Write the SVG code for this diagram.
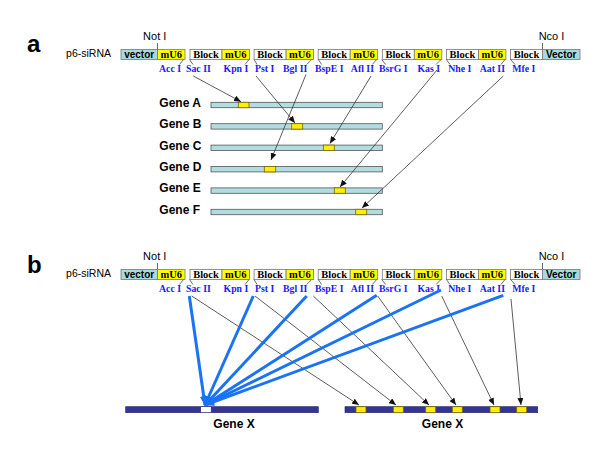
<svg xmlns="http://www.w3.org/2000/svg" width="600" height="454" viewBox="0 0 600 454">
<style>
.bg{fill:#fff}
.vec{fill:#a9d9dd;stroke:#777;stroke-width:0.8}
.mu{fill:#ffff00;stroke:#777;stroke-width:0.8}
.blk{fill:#fff;stroke:#777;stroke-width:0.8}
.tv{font-family:"Liberation Sans",Arial,sans-serif;font-weight:bold;font-size:10px;text-anchor:middle;fill:#000}
.tb{font-family:"Liberation Serif","Times New Roman",serif;font-weight:bold;font-size:10.5px;text-anchor:middle;fill:#000}
.lab{font-family:"Liberation Serif","Times New Roman",serif;font-weight:bold;font-size:9.8px;fill:#1a1aff}
.e{text-anchor:end}
.site{font-family:"Liberation Sans",Arial,sans-serif;font-size:11px;text-anchor:middle;fill:#000}
.p6{font-family:"Liberation Sans",Arial,sans-serif;font-size:10.5px;text-anchor:end;fill:#000}
.big{font-family:"Liberation Sans",Arial,sans-serif;font-weight:bold;font-size:24px;fill:#000}
.gl{font-family:"Liberation Sans",Arial,sans-serif;font-weight:bold;font-size:12px;fill:#000}
.gbar{fill:#b2dde0;stroke:#555;stroke-width:0.8}
.gy{fill:#ffee00;stroke:#776600;stroke-width:0.8}
.xbar{fill:#333399;stroke:#222266;stroke-width:0.6}
.xw{fill:#fff;stroke:#222266;stroke-width:0.6}
.tick{stroke:#444;stroke-width:0.8;fill:none}
.ln{stroke:#333;stroke-width:0.8;fill:none;marker-end:url(#ah)}
.bl{stroke:#1a73f5;stroke-width:3;fill:none;marker-end:url(#bh)}
</style>
<defs>
<marker id="ah" markerUnits="userSpaceOnUse" markerWidth="7" markerHeight="6" refX="7" refY="3" orient="auto"><path d="M0,0 L7,3 L0,6 z" fill="#111"/></marker>
<marker id="bh" markerUnits="userSpaceOnUse" markerWidth="10" markerHeight="8" refX="9" refY="4" orient="auto"><path d="M0,0 L10,4 L0,8 z" fill="#1a73f5"/></marker>
</defs>
<rect class="bg" x="0" y="0" width="600" height="454"/>

<text class="big" x="27" y="52">a</text>
<text class="big" x="27" y="273">b</text>

<g id="constructA">
<text class="p6" x="111" y="57">p6-siRNA</text>
<text class="site" x="154.7" y="40">Not I</text>
<text class="site" x="551.5" y="40">Nco I</text>
<line class="tick" x1="157.5" y1="43" x2="157.5" y2="49.5"/>
<line class="tick" x1="542.5" y1="43" x2="542.5" y2="49.5"/>
<rect class="vec" x="121" y="49.5" width="36.5" height="10"/>
<rect class="mu" x="157.5" y="49.5" width="27.5" height="10"/>
<rect class="blk" x="190" y="49.5" width="32" height="10"/>
<rect class="mu" x="222" y="49.5" width="27.5" height="10"/>
<rect class="blk" x="254.1" y="49.5" width="32" height="10"/>
<rect class="mu" x="286.1" y="49.5" width="27.5" height="10"/>
<rect class="blk" x="318.2" y="49.5" width="32" height="10"/>
<rect class="mu" x="350.2" y="49.5" width="27.5" height="10"/>
<rect class="blk" x="382.3" y="49.5" width="32" height="10"/>
<rect class="mu" x="414.3" y="49.5" width="27.5" height="10"/>
<rect class="blk" x="446.4" y="49.5" width="32" height="10"/>
<rect class="mu" x="478.4" y="49.5" width="27.5" height="10"/>
<rect class="blk" x="510.5" y="49.5" width="32" height="10"/>
<rect class="vec" x="542.5" y="49.5" width="37.5" height="10"/>
<text class="tv" x="139.2" y="58">vector</text>
<text class="tb" x="171.2" y="58">mU6</text>
<text class="tb" x="206" y="58">Block</text>
<text class="tb" x="235.8" y="58">mU6</text>
<text class="tb" x="270.1" y="58">Block</text>
<text class="tb" x="299.9" y="58">mU6</text>
<text class="tb" x="334.2" y="58">Block</text>
<text class="tb" x="364" y="58">mU6</text>
<text class="tb" x="398.3" y="58">Block</text>
<text class="tb" x="428.1" y="58">mU6</text>
<text class="tb" x="462.4" y="58">Block</text>
<text class="tb" x="492.2" y="58">mU6</text>
<text class="tb" x="526.5" y="58">Block</text>
<text class="tv" x="561.2" y="58">Vector</text>
<path class="tick" d="M183.5,59.5 L179.5,64.5 M189.5,59.5 L193,64.5 M249,59.5 L245,64.5 M254.1,59.5 L257,64.5 M311.7,59.5 L306.7,64.5 M318.3,59.5 L321.7,64.5 M376.7,59.5 L372.3,64.5 M381.7,59.5 L385.7,64.5 M441,59.5 L436,64.5 M446.4,59.5 L450,64.5 M505,59.5 L501,64.5 M510.5,59.5 L515,64.5"/>
<text class="lab e" x="181" y="72">Acc I</text>
<text class="lab" x="186" y="72">Sac II</text>
<text class="lab e" x="248.3" y="72">Kpn I</text>
<text class="lab" x="255" y="72">Pst I</text>
<text class="lab e" x="307.3" y="72">Bgl II</text>
<text class="lab" x="315" y="72">BspE I</text>
<text class="lab e" x="374" y="72">Afl II</text>
<text class="lab" x="379" y="72">BsrG I</text>
<text class="lab e" x="440" y="72">Kas I</text>
<text class="lab" x="448.3" y="72">Nhe I</text>
<text class="lab e" x="505" y="72">Aat II</text>
<text class="lab" x="512.3" y="72">Mfe I</text>
</g>

<g id="geneA"><text class="gl" x="159.3" y="106.7">Gene A</text><rect class="gbar" x="211" y="102.3" width="171.3" height="5.4"/><rect class="gy" x="238.3" y="102.3" width="10.7" height="5.4"/></g>
<g id="geneB"><text class="gl" x="159.3" y="128.1">Gene B</text><rect class="gbar" x="211" y="123.7" width="171.3" height="5.4"/><rect class="gy" x="291.7" y="123.7" width="11" height="5.4"/></g>
<g id="geneC"><text class="gl" x="159.3" y="149.5">Gene C</text><rect class="gbar" x="211" y="145.1" width="171.3" height="5.4"/><rect class="gy" x="323.3" y="145.1" width="11" height="5.4"/></g>
<g id="geneD"><text class="gl" x="159.3" y="170.9">Gene D</text><rect class="gbar" x="211" y="166.5" width="171.3" height="5.4"/><rect class="gy" x="264.3" y="166.5" width="11.4" height="5.4"/></g>
<g id="geneE"><text class="gl" x="159.3" y="192.3">Gene E</text><rect class="gbar" x="211" y="187.9" width="171.3" height="5.4"/><rect class="gy" x="334.3" y="187.9" width="11" height="5.4"/></g>
<g id="geneF"><text class="gl" x="159.3" y="213.7">Gene F</text><rect class="gbar" x="211" y="209.3" width="171.3" height="5.4"/><rect class="gy" x="355.7" y="209.3" width="11" height="5.4"/></g>

<g id="connectorsA">
<line class="ln" x1="193.3" y1="76" x2="241" y2="101.7"/>
<line class="ln" x1="256" y1="76" x2="295" y2="123"/>
<line class="ln" x1="306" y1="74.5" x2="271" y2="160"/>
<line class="ln" x1="371" y1="76" x2="330" y2="143.5"/>
<line class="ln" x1="437" y1="70" x2="340" y2="187"/>
<line class="ln" x1="503.3" y1="76" x2="362" y2="208"/>
</g>

<g id="constructB" transform="translate(0,220)">
<text class="p6" x="111" y="57">p6-siRNA</text>
<text class="site" x="154.7" y="40">Not I</text>
<text class="site" x="551.5" y="40">Nco I</text>
<line class="tick" x1="157.5" y1="43" x2="157.5" y2="49.5"/>
<line class="tick" x1="542.5" y1="43" x2="542.5" y2="49.5"/>
<rect class="vec" x="121" y="49.5" width="36.5" height="10"/>
<rect class="mu" x="157.5" y="49.5" width="27.5" height="10"/>
<rect class="blk" x="190" y="49.5" width="32" height="10"/>
<rect class="mu" x="222" y="49.5" width="27.5" height="10"/>
<rect class="blk" x="254.1" y="49.5" width="32" height="10"/>
<rect class="mu" x="286.1" y="49.5" width="27.5" height="10"/>
<rect class="blk" x="318.2" y="49.5" width="32" height="10"/>
<rect class="mu" x="350.2" y="49.5" width="27.5" height="10"/>
<rect class="blk" x="382.3" y="49.5" width="32" height="10"/>
<rect class="mu" x="414.3" y="49.5" width="27.5" height="10"/>
<rect class="blk" x="446.4" y="49.5" width="32" height="10"/>
<rect class="mu" x="478.4" y="49.5" width="27.5" height="10"/>
<rect class="blk" x="510.5" y="49.5" width="32" height="10"/>
<rect class="vec" x="542.5" y="49.5" width="37.5" height="10"/>
<text class="tv" x="139.2" y="58">vector</text>
<text class="tb" x="171.2" y="58">mU6</text>
<text class="tb" x="206" y="58">Block</text>
<text class="tb" x="235.8" y="58">mU6</text>
<text class="tb" x="270.1" y="58">Block</text>
<text class="tb" x="299.9" y="58">mU6</text>
<text class="tb" x="334.2" y="58">Block</text>
<text class="tb" x="364" y="58">mU6</text>
<text class="tb" x="398.3" y="58">Block</text>
<text class="tb" x="428.1" y="58">mU6</text>
<text class="tb" x="462.4" y="58">Block</text>
<text class="tb" x="492.2" y="58">mU6</text>
<text class="tb" x="526.5" y="58">Block</text>
<text class="tv" x="561.2" y="58">Vector</text>
<path class="tick" d="M183.5,59.5 L179.5,64.5 M189.5,59.5 L193,64.5 M249,59.5 L245,64.5 M254.1,59.5 L257,64.5 M311.7,59.5 L306.7,64.5 M318.3,59.5 L321.7,64.5 M376.7,59.5 L372.3,64.5 M381.7,59.5 L385.7,64.5 M441,59.5 L436,64.5 M446.4,59.5 L450,64.5 M505,59.5 L501,64.5 M510.5,59.5 L515,64.5"/>
<text class="lab e" x="181" y="72">Acc I</text>
<text class="lab" x="186" y="72">Sac II</text>
<text class="lab e" x="248.3" y="72">Kpn I</text>
<text class="lab" x="255" y="72">Pst I</text>
<text class="lab e" x="307.3" y="72">Bgl II</text>
<text class="lab" x="315" y="72">BspE I</text>
<text class="lab e" x="374" y="72">Afl II</text>
<text class="lab" x="379" y="72">BsrG I</text>
<text class="lab e" x="440" y="72">Kas I</text>
<text class="lab" x="448.3" y="72">Nhe I</text>
<text class="lab e" x="505" y="72">Aat II</text>
<text class="lab" x="512.3" y="72">Mfe I</text>
</g>

<g id="geneX1">
<rect class="xbar" x="125.7" y="406.7" width="192.6" height="6"/>
<rect class="xw" x="200.7" y="406.7" width="10.5" height="6"/>
<text class="gl" x="234" y="427.7" text-anchor="middle">Gene X</text>
</g>
<g id="geneX2">
<rect class="xbar" x="345" y="406.7" width="192.7" height="6"/>
<rect class="gy" x="356" y="406.7" width="10" height="6"/>
<rect class="gy" x="393.3" y="406.7" width="10" height="6"/>
<rect class="gy" x="425.7" y="406.7" width="10" height="6"/>
<rect class="gy" x="452.3" y="406.7" width="10" height="6"/>
<rect class="gy" x="490" y="406.7" width="10" height="6"/>
<rect class="gy" x="516.7" y="406.7" width="10" height="6"/>
<text class="gl" x="442.5" y="427.7" text-anchor="middle">Gene X</text>
</g>

<g id="connectorsB">
<line class="ln" x1="191.7" y1="296" x2="359" y2="405"/>
<line class="ln" x1="255" y1="296" x2="396" y2="405"/>
<line class="ln" x1="313.3" y1="296" x2="429" y2="405"/>
<line class="ln" x1="377.7" y1="296" x2="456" y2="405"/>
<line class="ln" x1="441.7" y1="296" x2="494" y2="405"/>
<line class="ln" x1="511" y1="299" x2="521" y2="405"/>
<line class="bl" x1="189.3" y1="296" x2="205" y2="405"/>
<line class="bl" x1="253.3" y1="296" x2="205" y2="405"/>
<line class="bl" x1="306.7" y1="296" x2="205" y2="405"/>
<line class="bl" x1="376.7" y1="295.3" x2="205" y2="405"/>
<line class="bl" x1="441" y1="290" x2="205" y2="405"/>
<line class="bl" x1="503.3" y1="295.3" x2="205" y2="405"/>
</g>
</svg>
